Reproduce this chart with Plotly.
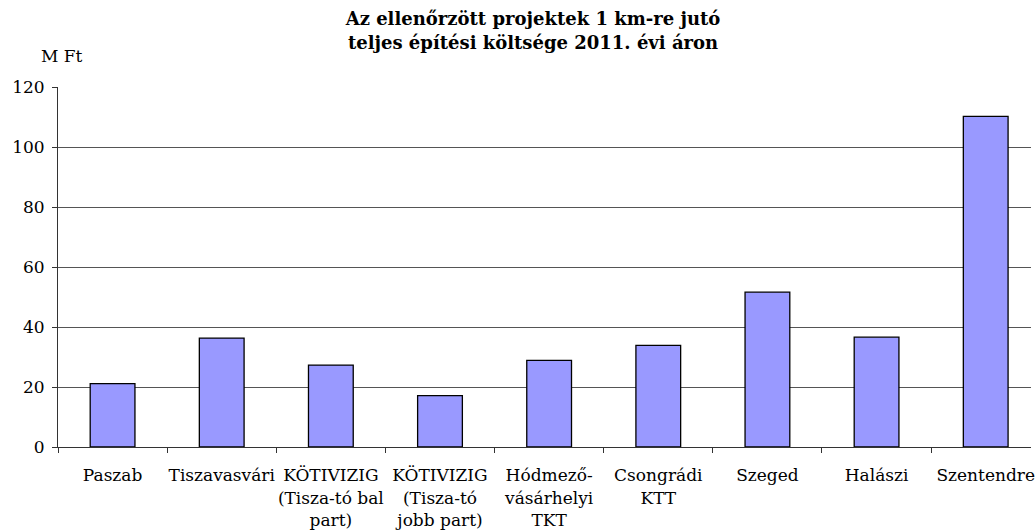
import plotly.graph_objects as go

# categories and values (M Ft / km, 2011 prices)
projects = ["Paszab", "Tiszavasvári", "KÖTIVIZIG<br>(Tisza-tó bal<br>part)",
            "KÖTIVIZIG<br>(Tisza-tó<br>jobb part)", "Hódmező-<br>vásárhelyi<br>TKT",
            "Csongrádi<br>KTT", "Szeged", "Halászi", "Szentendre"]
cost_per_km = [21.1, 36.3, 27.3, 17.1, 28.9, 33.9, 51.6, 36.6, 110.2]
y_ticks = [0, 20, 40, 60, 80, 100, 120]

serif = "DejaVu Serif"

fig = go.Figure(go.Bar(
    x=projects, y=cost_per_km,
    width=0.41,
    marker=dict(color="#9999FF", line=dict(color="#000000", width=1.3)),
))

fig.update_layout(
    width=1035, height=531,
    margin=dict(l=58, r=0, t=87, b=84),
    paper_bgcolor="white", plot_bgcolor="white",
    showlegend=False,
    title=dict(text="<b>Az ellenőrzött projektek 1 km-re jutó<br>teljes építési költsége 2011. évi áron</b>",
               x=0.515, xref="container", xanchor="center",
               y=0.952, yref="container", yanchor="middle",
               font=dict(family=serif, size=18, color="#000000")),
)
fig.add_annotation(text="M Ft", x=0.0, y=1.0, xref="paper", yref="paper",
                   xshift=4, yshift=31, xanchor="center", yanchor="middle",
                   showarrow=False, font=dict(family=serif, size=17, color="#000000"))

fig.update_xaxes(
    range=[-0.5, 8.415],
    showline=True, linecolor="#333333", linewidth=1,
    ticks="outside", tickson="boundaries", ticklen=5, tickcolor="#333333",
    showgrid=False,
    tickfont=dict(family=serif, size=17, color="#000000"),
    tickangle=0, ticklabelstandoff=13,
)
fig.update_yaxes(
    range=[0, 120], tickvals=y_ticks,
    showline=True, linecolor="#333333", linewidth=1,
    ticks="outside", ticklen=5, tickcolor="#333333",
    showgrid=True, gridcolor="#555555", gridwidth=1,
    zeroline=False,
    tickfont=dict(family=serif, size=17, color="#000000"),
    ticklabelstandoff=4,
)

fig.write_html("out.html", config={"displayModeBar": False},
               post_script="document.body.style.margin='0';")
